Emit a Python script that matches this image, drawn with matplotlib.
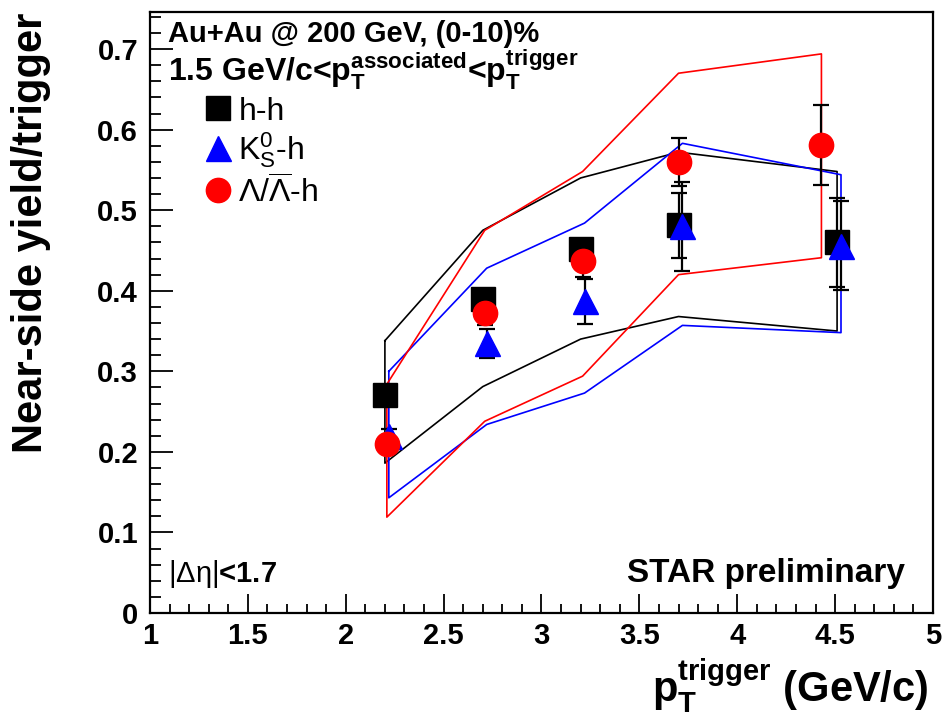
import matplotlib
matplotlib.use("Agg")
import matplotlib.pyplot as plt
import numpy as np

# h-h
pt_hh = [2.20, 2.70, 3.20, 3.70, 4.51]
yield_hh = [0.27, 0.39, 0.452, 0.481, 0.46]
err_hh = [0.01, 0.012, 0.012, 0.04, 0.055]
sys_hi_hh = [0.338, 0.475, 0.54, 0.572, 0.548]
sys_lo_hh = [0.186, 0.281, 0.34, 0.368, 0.35]

# K0s-h
pt_k0s = [2.22, 2.72, 3.22, 3.72, 4.53]
yield_k0s = [0.22, 0.335, 0.387, 0.48, 0.456]
err_k0s = [0.008, 0.018, 0.028, 0.055, 0.055]
sys_hi_k0s = [0.30, 0.428, 0.484, 0.583, 0.544]
sys_lo_k0s = [0.143, 0.234, 0.273, 0.357, 0.348]

# Lambda-h
pt_lam = [2.21, 2.71, 3.21, 3.70, 4.43]
yield_lam = [0.21, 0.372, 0.437, 0.56, 0.581]
err_lam = [0.008, 0.015, 0.02, 0.03, 0.05]
sys_hi_lam = [0.284, 0.475, 0.548, 0.67, 0.694]
sys_lo_lam = [0.119, 0.238, 0.294, 0.42, 0.441]

x_ticks = [1, 1.5, 2, 2.5, 3, 3.5, 4, 4.5, 5]
x_ticklabels = ["1", "1.5", "2", "2.5", "3", "3.5", "4", "4.5", "5"]
y_ticks = [0, 0.1, 0.2, 0.3, 0.4, 0.5, 0.6, 0.7]
y_ticklabels = ["0", "0.1", "0.2", "0.3", "0.4", "0.5", "0.6", "0.7"]

plt.rcParams["font.family"] = ["Liberation Sans", "DejaVu Sans"]
plt.rcParams["mathtext.fontset"] = "custom"
plt.rcParams["mathtext.rm"] = "Liberation Sans"
plt.rcParams["mathtext.bf"] = "Liberation Sans:bold"
plt.rcParams["mathtext.it"] = "Liberation Sans:italic"

fig = plt.figure(figsize=(9.46, 7.23), dpi=100)
ax = fig.add_axes([150 / 946, 110 / 723, 783 / 946, 601 / 723])
ax.set_xlim(1, 5)
ax.set_ylim(0, 0.746)


def draw_band(pt, hi, lo, color):
    # closed outline of the systematic band
    xs = np.r_[pt, pt[::-1], pt[:1]]
    ys = np.r_[hi, lo[::-1], hi[:1]]
    ax.plot(xs, ys, color=color, lw=1.2, zorder=2)


draw_band(pt_hh, sys_hi_hh, sys_lo_hh, "black")
draw_band(pt_k0s, sys_hi_k0s, sys_lo_k0s, "blue")
draw_band(pt_lam, sys_hi_lam, sys_lo_lam, "red")

for pt, y, e in [(pt_hh, yield_hh, err_hh), (pt_k0s, yield_k0s, err_k0s), (pt_lam, yield_lam, err_lam)]:
    ax.errorbar(pt, y, yerr=e, fmt="none", ecolor="black", elinewidth=1.6,
                capsize=6, capthick=1.6, zorder=3)

ax.plot(pt_hh, yield_hh, "s", ms=17.5, color="black", zorder=4)
ax.plot(pt_k0s, yield_k0s, "^", ms=18, color="blue", zorder=5)
ax.plot(pt_lam, yield_lam, "o", ms=17.5, color="red", zorder=6)

# legend built by hand, ROOT style
leg_x = 0.0868
ax.plot([leg_x], [0.840], "s", ms=17.5, color="black", transform=ax.transAxes, clip_on=False)
ax.plot([leg_x], [0.774], "^", ms=18, color="blue", transform=ax.transAxes, clip_on=False)
ax.plot([leg_x], [0.704], "o", ms=17.5, color="red", transform=ax.transAxes, clip_on=False)
ax.text(0.113, 0.820, "h-h", transform=ax.transAxes, fontsize=23, va="baseline")
ax.text(0.113, 0.754, r"K$^{0}_{\mathrm{S}}$-h", transform=ax.transAxes, fontsize=23, va="baseline")
ax.text(0.113, 0.682, r"$\Lambda/\overline{\Lambda}$-h", transform=ax.transAxes, fontsize=23, va="baseline")

ax.text(0.023, 0.950, "Au+Au @ 200 GeV, (0-10)%", transform=ax.transAxes,
        fontsize=21, fontweight="bold", va="baseline")
ax.text(0.023, 0.885,
        r"1.5 GeV/c<$\mathbf{p}_{\mathbf{T}}^{\mathbf{associated}}$<$\mathbf{p}_{\mathbf{T}}^{\mathbf{trigger}}$",
        transform=ax.transAxes, fontsize=23, fontweight="bold", va="baseline")
ax.text(0.023, 0.052, r"$|\mathrm{\Delta\eta}|$<1.7", transform=ax.transAxes,
        fontsize=21, fontweight="bold", va="baseline")
ax.text(0.964, 0.052, "STAR preliminary", transform=ax.transAxes,
        fontsize=24, fontweight="bold", va="baseline", ha="right")

ax.set_xticks(x_ticks)
ax.set_xticklabels(x_ticklabels, fontsize=21, fontweight="bold")
ax.set_xticks(np.arange(1, 5.001, 0.1), minor=True)
ax.set_yticks(y_ticks)
ax.set_yticklabels(y_ticklabels, fontsize=21, fontweight="bold")
ax.set_yticks(np.arange(0, 0.746, 0.02), minor=True)

ax.tick_params(axis="x", which="major", direction="in", length=13.7, width=1.3, pad=6.5)
ax.tick_params(axis="x", which="minor", direction="in", length=6.5, width=1.3)
ax.tick_params(axis="y", which="major", direction="in", length=16.3, width=1.3, pad=8.6)
ax.tick_params(axis="y", which="minor", direction="in", length=8, width=1.3)
for s in ax.spines.values():
    s.set_linewidth(1.6)

fig.text(31 / 946, 1 - 13 / 723, "Near-side yield/trigger", rotation=90,
         ha="center", va="top", fontsize=30, fontweight="bold")
fig.text(928 / 946, 1 - 702 / 723, r"$\mathbf{p}_{\mathbf{T}}^{\mathbf{trigger}}$ (GeV/c)",
         ha="right", va="baseline", fontsize=30, fontweight="bold")

fig.savefig("out.png", dpi=100)
